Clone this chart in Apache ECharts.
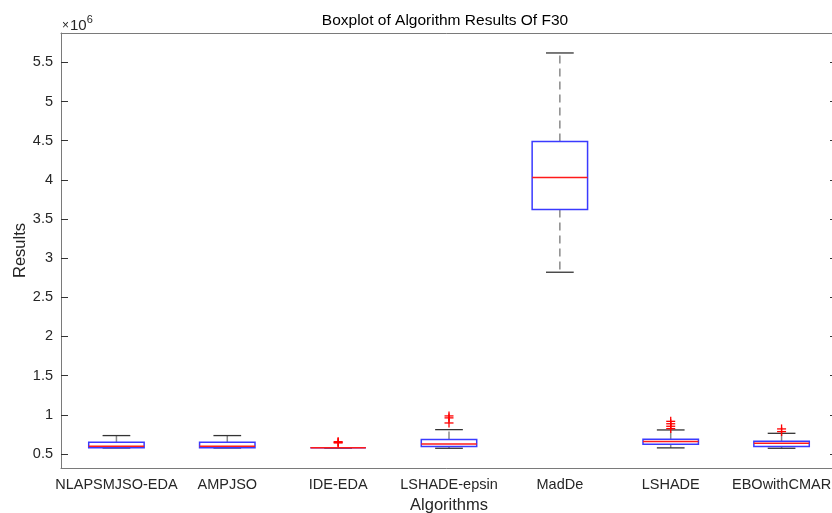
<!DOCTYPE html>
<html>
<head>
<meta charset="utf-8">
<title>Boxplot of Algorithm Results Of F30</title>
<script src="https://cdn.jsdelivr.net/npm/echarts@6/dist/echarts.min.js"></script>
<style>
  html, body { margin: 0; padding: 0; background: #fff; }
  #main { width: 832px; height: 513px; }
</style>
</head>
<body>
<div id="main"></div>
<script>
// values in units of 1e6
var categories = ['NLAPSMJSO-EDA', 'AMPJSO', 'IDE-EDA', 'LSHADE-epsin', 'MadDe', 'LSHADE', 'EBOwithCMAR'];
var lowWhisker  = [0.576, 0.576, 0.577, 0.572, 2.82, 0.577, 0.572];
var q1          = [0.580, 0.580, 0.577, 0.593, 3.62, 0.623, 0.593];
var median      = [0.597, 0.597, 0.577, 0.628, 4.03, 0.657, 0.635];
var q3          = [0.648, 0.648, 0.577, 0.683, 4.49, 0.687, 0.661];
var highWhisker = [0.734, 0.734, 0.577, 0.810, 5.62, 0.806, 0.763];
// outliers: [category index, value]
var outliers = [
    [2, 0.640], [2, 0.648], [2, 0.656],
    [3, 0.895], [3, 0.960], [3, 0.985],
    [5, 0.823], [5, 0.853], [5, 0.885], [5, 0.916],
    [6, 0.785], [6, 0.819]
];
var yTicks = [0.5, 1, 1.5, 2, 2.5, 3, 3.5, 4, 4.5, 5, 5.5];

var axisColor = '#7a7a7a';
var textColor = '#262626';
var font = 'Liberation Sans, Arial, sans-serif';

var boxData = [];
for (var i = 0; i < categories.length; i++) {
    boxData.push([i, lowWhisker[i], q1[i], median[i], q3[i], highWhisker[i]]);
}

function renderBox(params, api) {
    var x = api.value(0);
    var band = api.size([1, 0])[0];
    var half = band * 0.25, cap = band * 0.125;
    var yLo = api.coord([x, api.value(1)])[1];
    var yQ1 = api.coord([x, api.value(2)])[1];
    var yMd = api.coord([x, api.value(3)])[1];
    var yQ3 = api.coord([x, api.value(4)])[1];
    var yHi = api.coord([x, api.value(5)])[1];
    var cx = api.coord([x, api.value(3)])[0];
    var dash = {stroke: '#8a8a8a', lineWidth: 1.5, lineDash: [8, 5]};
    var solid = {stroke: '#333333', lineWidth: 1.3};
    return {
        type: 'group',
        children: [
            {type: 'line', shape: {x1: cx, y1: yQ3, x2: cx, y2: yHi}, style: dash},
            {type: 'line', shape: {x1: cx, y1: yQ1, x2: cx, y2: yLo}, style: dash},
            {type: 'line', shape: {x1: cx - cap, y1: yHi, x2: cx + cap, y2: yHi}, style: solid},
            {type: 'line', shape: {x1: cx - cap, y1: yLo, x2: cx + cap, y2: yLo}, style: solid},
            {type: 'rect', shape: {x: cx - half, y: yQ3, width: half * 2, height: yQ1 - yQ3},
                style: {fill: 'none', stroke: '#3a3aff', lineWidth: 1.5}},
            {type: 'line', shape: {x1: cx - half, y1: yMd, x2: cx + half, y2: yMd},
                style: {stroke: '#ff1a1a', lineWidth: 1.5}}
        ]
    };
}

function renderPlus(params, api) {
    var p = api.coord([api.value(0), api.value(1)]);
    var s = 4.5;
    var st = {stroke: '#ff0000', lineWidth: 1.3};
    return {
        type: 'group',
        children: [
            {type: 'line', shape: {x1: p[0] - s, y1: p[1], x2: p[0] + s, y2: p[1]}, style: st},
            {type: 'line', shape: {x1: p[0], y1: p[1] - s, x2: p[0], y2: p[1] + s}, style: st}
        ]
    };
}

var myChart = echarts.init(document.getElementById('main'));
var yAxisBase = {
    type: 'value',
    min: 0.32,
    max: 5.875,
    splitLine: {show: false},
    axisLine: {show: true, lineStyle: {color: axisColor}},
    axisTick: {show: true, inside: true, length: 7, customValues: yTicks, lineStyle: {color: '#333'}}
};
var option = {
    animation: false,
    title: {
        text: 'Boxplot of Algorithm Results Of F30',
        left: 440,
        top: 8,
        textAlign: 'center',
        textStyle: {color: '#000', fontSize: 15.5, fontWeight: 'normal', fontFamily: font}
    },
    grid: {left: 61, top: 33, right: -5, bottom: 45, containLabel: false, outerBoundsMode: 'none'},
    graphic: [{
        type: 'text',
        left: 62,
        top: 14,
        style: {
            text: '{a|×}{b|10}{c|6}',
            rich: {
                a: {fontSize: 12, fill: textColor, fontFamily: font, padding: [4, 1, 0, 0]},
                b: {fontSize: 15, fill: textColor, fontFamily: font, padding: [4, 0, 0, 0]},
                c: {fontSize: 11, fill: textColor, fontFamily: font, padding: [0, 0, 8, 0]}
            }
        }
    }],
    xAxis: [{
        type: 'category',
        data: categories,
        boundaryGap: true,
        name: 'Algorithms',
        nameLocation: 'middle',
        nameGap: 26,
        nameTextStyle: {color: textColor, fontSize: 16.5, fontFamily: font},
        axisLine: {lineStyle: {color: axisColor}},
        axisTick: {inside: true, alignWithLabel: true, length: 7, lineStyle: {color: '#333'}},
        axisLabel: {color: textColor, fontSize: 14.5, fontFamily: font, margin: 9, interval: 0}
    }, {
        type: 'category',
        data: categories,
        position: 'top',
        boundaryGap: true,
        axisLine: {lineStyle: {color: axisColor}},
        axisTick: {inside: true, alignWithLabel: true, length: 7, lineStyle: {color: '#333'}},
        axisLabel: {show: false}
    }],
    yAxis: [
        echarts.util.merge({
            position: 'left',
            name: 'Results',
            nameLocation: 'middle',
            nameGap: 32,
            nameMoveOverlap: false,
            nameTextStyle: {color: textColor, fontSize: 16.5, fontFamily: font},
            axisLabel: {color: textColor, fontSize: 14.5, fontFamily: font, margin: 8, customValues: yTicks}
        }, yAxisBase, true),
        echarts.util.merge({
            position: 'right',
            axisLabel: {show: false}
        }, yAxisBase, true)
    ],
    series: [{
        type: 'custom',
        name: 'box',
        xAxisIndex: 0,
        yAxisIndex: 0,
        renderItem: renderBox,
        encode: {x: 0, y: [1, 2, 3, 4, 5]},
        data: boxData
    }, {
        type: 'custom',
        name: 'outliers',
        xAxisIndex: 0,
        yAxisIndex: 0,
        renderItem: renderPlus,
        encode: {x: 0, y: 1},
        data: outliers
    }]
};
myChart.setOption(option);
</script>
</body>
</html>
